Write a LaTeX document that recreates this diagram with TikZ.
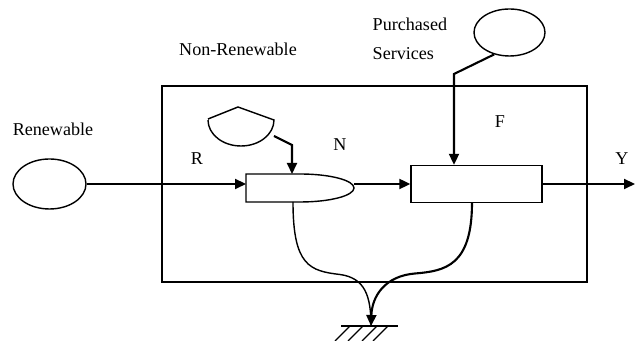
\documentclass[tikz,border=0pt]{standalone}
\usepackage{fontspec}
\setmainfont{Liberation Serif}
\usetikzlibrary{arrows.meta,shapes.geometric}

\tikzset{
  flow/.style={line width=1.2pt,-{Triangle[length=0.22cm,width=0.2cm]}},
  pool/.style={ellipse,draw,line width=0.8pt,inner sep=0pt},
  lbl/.style={font=\fontsize{10.3}{16.5}\selectfont}
}

\begin{document}
\begin{tikzpicture}

    \useasboundingbox (0,0) rectangle (12.7,6.82);

    % system frame
    \node[draw,line width=0.8pt,minimum width=8.5cm,minimum height=3.92cm] (frame) at (7.49,3.14) {};
    \node[lbl] (nrlbl) at (4.76,5.84) {Non-Renewable};

    % renewable source
    \node[lbl] (renlbl) at (1.06,4.24) {Renewable};
    \node[pool,minimum width=1.46cm,minimum height=1.0cm] (renew) at (0.99,3.14) {};
    \node[lbl] (rlbl) at (3.94,3.64) {R};

    % non-renewable storage
    \draw[line width=0.8pt] (4.16,4.44) -- (4.76,4.68) -- (5.48,4.42)
        arc[start angle=0,end angle=-180,x radius=0.66,y radius=0.52];
    \coordinate (tankout) at (5.48,4.10);
    \coordinate (tankbend) at (5.84,3.92);

    % interaction N
    \draw[line width=0.8pt] (6.00,3.34) -- (4.92,3.34) -- (4.92,2.78) -- (6.00,2.78)
        arc[start angle=-90,end angle=90,x radius=1.08,y radius=0.28];
    \coordinate (nin) at (4.92,3.14);
    \coordinate (ntop) at (5.84,3.34);
    \coordinate (nout) at (7.08,3.14);
    \coordinate (nbot) at (5.86,2.78);
    \node[lbl] (nlbl) at (6.80,3.92) {N};

    % purchased services
    \node[lbl,align=left,anchor=north west] (pslbl) at (7.33,6.58) {Purchased\\Services};
    \node[pool,minimum width=1.42cm,minimum height=0.94cm] (purch) at (10.19,6.17) {};
    \coordinate (pbend) at (9.08,5.34);

    % interaction F
    \node[draw,line width=0.8pt,minimum width=2.62cm,minimum height=0.74cm] (fbox) at (9.53,3.14) {};
    \node[lbl] (flbl) at (10.00,4.38) {F};

    % yield
    \coordinate (yout) at (12.70,3.14);
    \node[lbl] (ylbl) at (12.44,3.64) {Y};

    % heat sink
    \coordinate (sink) at (7.42,0.30);
    \draw[line width=0.8pt] (6.82,0.30) -- (7.96,0.30);
    \foreach \x in {7.00,7.26,7.54,7.76}
        \draw[line width=0.8pt] (\x,0.30) -- ++(-0.3,-0.3);

    %%%%%%%%%%%%%%%%%%%%%%%%%%%%%%%%%%%%%%%%%%%%%%%%%%%%%%

    % flows
    \draw[flow] (renew.east) -- (nin);
    \draw[flow] (tankout) -- (tankbend) -- (ntop);
    \draw[flow] (nout) -- (fbox.west);
    \draw[flow] (purch.235) -- (pbend) -- (pbend |- fbox.north);
    \draw[flow] (fbox.east) -- (yout);

    % losses to sink
    \draw[line width=0.8pt] (nbot) .. controls (5.86,1.50) and (6.20,1.40) .. (6.80,1.33)
        .. controls (7.30,1.26) and (7.42,0.90) .. (sink);
    \draw[flow] (9.44,2.77) .. controls (9.44,1.50) and (8.90,1.40) .. (8.30,1.35)
        .. controls (7.70,1.30) and (7.44,0.90) .. (sink);

\end{tikzpicture}
\end{document}
